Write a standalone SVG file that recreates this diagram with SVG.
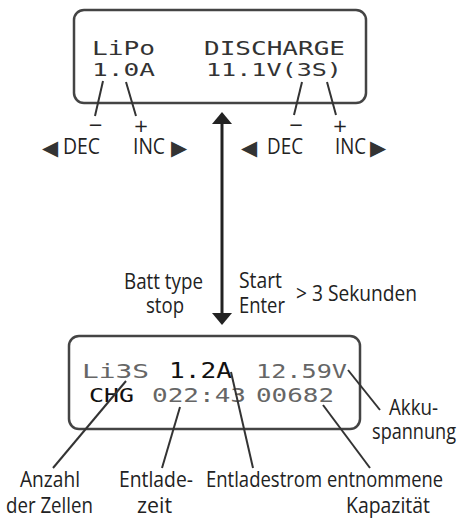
<svg xmlns="http://www.w3.org/2000/svg" width="462" height="520" viewBox="0 0 462 520">
<defs>
<style>
.box{fill:#fff;stroke:#444;stroke-width:2.5}
.lcd{font-family:"DejaVu Sans Mono","Liberation Mono",monospace;fill:#333}
.gray{fill:#666}
.blk{fill:#111}
.lbl{font-family:"Open Sans","Noto Sans","Liberation Sans",sans-serif;font-size:21px;fill:#222}
.sym{font-family:"DejaVu Sans",sans-serif;font-size:21px;fill:#333}
.pm{font-family:"DejaVu Sans",sans-serif;font-size:18px;fill:#222;text-anchor:middle}
.lead{stroke:#333;stroke-width:2;fill:none}
.arr{stroke:#222;stroke-width:3;fill:none}
</style>
<marker id="ah" viewBox="0 0 12 20" refX="2" refY="10" markerWidth="12" markerHeight="20" markerUnits="userSpaceOnUse" orient="auto-start-reverse">
<path d="M0,0 L20,10 L0,20 Z" transform="scale(0.6,1)" fill="#222"/>
</marker>
</defs>
<rect width="462" height="520" fill="#fff"/>

<g id="display-top">
<rect class="box" x="74" y="10" width="292" height="93" rx="10"/>
<text class="lcd" x="92" y="55" font-size="20" textLength="63" lengthAdjust="spacingAndGlyphs">LiPo</text>
<text class="lcd" x="204" y="55" font-size="20" textLength="141" lengthAdjust="spacingAndGlyphs">DISCHARGE</text>
<text class="lcd" x="92" y="76" font-size="18" textLength="63" lengthAdjust="spacingAndGlyphs">1.0A</text>
<text class="lcd" x="206" y="76" font-size="18" textLength="136" lengthAdjust="spacingAndGlyphs">11.1V(3S)</text>
</g>

<g id="display-bottom">
<rect class="box" x="69" y="336" width="291" height="93" rx="10"/>
<text class="lcd gray" x="82" y="378" font-size="20" textLength="67" lengthAdjust="spacingAndGlyphs">Li3S</text>
<text class="lcd blk" x="169" y="378" font-size="21" textLength="63" lengthAdjust="spacingAndGlyphs">1.2A</text>
<text class="lcd gray" x="256" y="378" font-size="20" textLength="91" lengthAdjust="spacingAndGlyphs">12.59V</text>
<text class="lcd blk" x="89" y="402" font-size="20" textLength="45" lengthAdjust="spacingAndGlyphs">CHG</text>
<text class="lcd gray" x="152" y="402" font-size="20" textLength="94" lengthAdjust="spacingAndGlyphs">022:43</text>
<text class="lcd gray" x="256" y="402" font-size="20" textLength="78" lengthAdjust="spacingAndGlyphs">00682</text>
</g>

<g id="connectors">
<line class="arr" x1="222" y1="122" x2="222" y2="315" marker-start="url(#ah)" marker-end="url(#ah)"/>
<line class="lead" x1="103" y1="81" x2="95" y2="116"/>
<line class="lead" x1="126" y1="82" x2="136" y2="116"/>
<line class="lead" x1="302" y1="82" x2="294" y2="115"/>
<line class="lead" x1="327" y1="82" x2="336" y2="115"/>
<line class="lead" x1="126" y1="381" x2="53" y2="468"/>
<line class="lead" x1="180" y1="407" x2="162" y2="468"/>
<line class="lead" x1="231" y1="372" x2="253" y2="468"/>
<line class="lead" x1="323" y1="405" x2="370" y2="468"/>
<line class="lead" x1="348" y1="370" x2="380" y2="410"/>
</g>

<g id="keys-left">
<text class="pm" x="95.5" y="131">−</text>
<text class="pm" x="141" y="132">+</text>
<text class="sym" x="42" y="155">◀</text>
<text class="lbl" x="63" y="154" font-size="22" textLength="37" lengthAdjust="spacingAndGlyphs">DEC</text>
<text class="lbl" x="133" y="154" font-size="22" textLength="32" lengthAdjust="spacingAndGlyphs">INC</text>
<text class="sym" x="171" y="155">▶</text>
</g>

<g id="keys-right">
<text class="pm" x="296" y="131">−</text>
<text class="pm" x="340" y="132">+</text>
<text class="sym" x="241" y="155">◀</text>
<text class="lbl" x="267" y="154" font-size="22" textLength="36" lengthAdjust="spacingAndGlyphs">DEC</text>
<text class="lbl" x="335" y="154" font-size="22" textLength="31" lengthAdjust="spacingAndGlyphs">INC</text>
<text class="sym" x="370" y="155">▶</text>
</g>

<g id="transition-labels">
<text class="lbl" x="124" y="289" textLength="79" lengthAdjust="spacingAndGlyphs">Batt type</text>
<text class="lbl" x="146" y="313" textLength="38" lengthAdjust="spacingAndGlyphs">stop</text>
<text class="lbl" x="239" y="288" textLength="43" lengthAdjust="spacingAndGlyphs">Start</text>
<text class="lbl" x="239" y="313" textLength="46" lengthAdjust="spacingAndGlyphs">Enter</text>
<text class="lbl" x="296" y="301" textLength="121" lengthAdjust="spacingAndGlyphs">&gt; 3 Sekunden</text>
</g>

<g id="field-labels">
<text class="lbl" x="389" y="415" textLength="49" lengthAdjust="spacingAndGlyphs">Akku-</text>
<text class="lbl" x="372" y="439" textLength="84" lengthAdjust="spacingAndGlyphs">spannung</text>
<text class="lbl" x="20" y="487" textLength="60" lengthAdjust="spacingAndGlyphs">Anzahl</text>
<text class="lbl" x="6" y="513" textLength="87" lengthAdjust="spacingAndGlyphs">der Zellen</text>
<text class="lbl" x="119" y="487" textLength="74" lengthAdjust="spacingAndGlyphs">Entlade-</text>
<text class="lbl" x="137" y="513" textLength="35" lengthAdjust="spacingAndGlyphs">zeit</text>
<text class="lbl" x="206" y="487" textLength="116" lengthAdjust="spacingAndGlyphs">Entladestrom</text>
<text class="lbl" x="327" y="487" textLength="116" lengthAdjust="spacingAndGlyphs">entnommene</text>
<text class="lbl" x="346" y="513" textLength="84" lengthAdjust="spacingAndGlyphs">Kapazität</text>
</g>
</svg>
